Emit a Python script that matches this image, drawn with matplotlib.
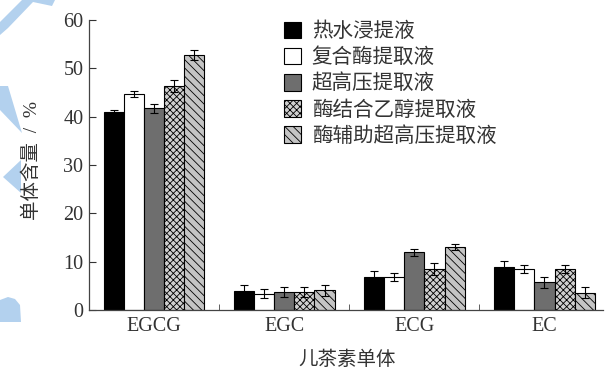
import matplotlib.pyplot as plt
from matplotlib.patches import Polygon
import numpy as np

plt.rcParams['font.family'] = ['Liberation Serif', 'Noto Sans CJK SC']
plt.rcParams['hatch.linewidth'] = 0.6

# data
categories = ["EGCG", "EGC", "ECG", "EC"]
methods = ["热水浸提液", "复合酶提取液", "超高压提取液", "酶结合乙醇提取液", "酶辅助超高压提取液"]
values = {
    "热水浸提液":       [40.9, 3.9, 6.9, 8.8],
    "复合酶提取液":     [44.7, 3.4, 6.9, 8.5],
    "超高压提取液":     [41.7, 3.7, 11.9, 5.7],
    "酶结合乙醇提取液": [46.3, 3.7, 8.5, 8.5],
    "酶辅助超高压提取液": [52.8, 4.1, 13.1, 3.6],
}
errors = {
    "热水浸提液":       [0.5, 1.3, 1.2, 1.3],
    "复合酶提取液":     [0.7, 0.9, 0.8, 0.9],
    "超高压提取液":     [0.9, 1.1, 0.7, 1.2],
    "酶结合乙醇提取液": [1.2, 1.1, 1.3, 0.9],
    "酶辅助超高压提取液": [1.0, 1.1, 0.6, 1.1],
}

styles = [
    dict(facecolor="black", hatch=None),
    dict(facecolor="white", hatch=None),
    dict(facecolor="#6e6e6e", hatch=None),
    dict(facecolor="#d0d0d0", hatch="xxxxx"),
    dict(facecolor="#c4c4c4", hatch="\\\\\\\\"),
]

W, H = 608, 372
fig = plt.figure(figsize=(W / 100, H / 100), dpi=100)

# light blue watermark shapes in the background (pixel coords -> figure fraction)
def px(pts):
    return [(x / W, 1 - y / H) for x, y in pts]

wm = "#b3d1ee"
shapes = [
    [(0, 22), (22, 0), (55, 0), (52, 6), (33, 2), (8, 28), (0, 35)],
    [(0, 86), (8, 86), (22, 133), (0, 110)],
    [(3, 177), (21, 160), (21, 193)],
    [(0, 300), (8, 297), (15, 299), (20, 305), (21, 322), (0, 322)],
]
for s in shapes:
    fig.patches.append(Polygon(px(s), closed=True, transform=fig.transFigure,
                               facecolor=wm, edgecolor="none", zorder=0))

ax = fig.add_axes([89 / W, 1 - 310 / H, (603 - 89) / W, (310 - 20) / H])
ax.patch.set_alpha(0)

x = np.arange(len(categories))
w = 0.155
text_color = "#333333"
for i, m in enumerate(methods):
    ax.bar(x + (i - 2) * w, values[m], w, yerr=errors[m], label=m,
           edgecolor="black", linewidth=0.8, capsize=3,
           error_kw=dict(elinewidth=0.8, capthick=0.8, ecolor="black"),
           **styles[i])

ax.set_xlim(-0.5, 3.45)
ax.set_ylim(0, 60)
ax.set_yticks(range(0, 61, 10))
ax.set_xticks(x)
ax.set_xticklabels(categories)
ax.set_xticks([0.5, 1.5, 2.5], minor=True)
ax.tick_params(axis="x", which="major", length=0, pad=5, labelsize=14.5, colors=text_color)
ax.tick_params(axis="x", which="minor", direction="in", length=4, color="#444444")
ax.tick_params(axis="y", direction="in", length=5, labelsize=14.5, colors=text_color, pad=4)
for s in ["top", "right"]:
    ax.spines[s].set_visible(False)
for s in ["left", "bottom"]:
    ax.spines[s].set_color("#444444")
    ax.spines[s].set_linewidth(0.9)

fig.text(32 / W, 1 - 160 / H, "单体含量  /  %", rotation=90, ha="center", va="center",
         fontsize=14, color=text_color)
fig.text(347 / W, 1 - 360 / H, "儿茶素单体", ha="center", va="center",
         fontsize=14, color=text_color)

leg = ax.legend(loc="upper left", bbox_to_anchor=(284 / W, 1 - 22 / H),
                bbox_transform=fig.transFigure, frameon=False,
                fontsize=14.8, handlelength=0.85, handleheight=0.85,
                handletextpad=0.5, labelspacing=0.28,
                borderpad=0, borderaxespad=0)
for t in leg.get_texts():
    t.set_color(text_color)

fig.savefig("out.png", dpi=100)
plt.close()
